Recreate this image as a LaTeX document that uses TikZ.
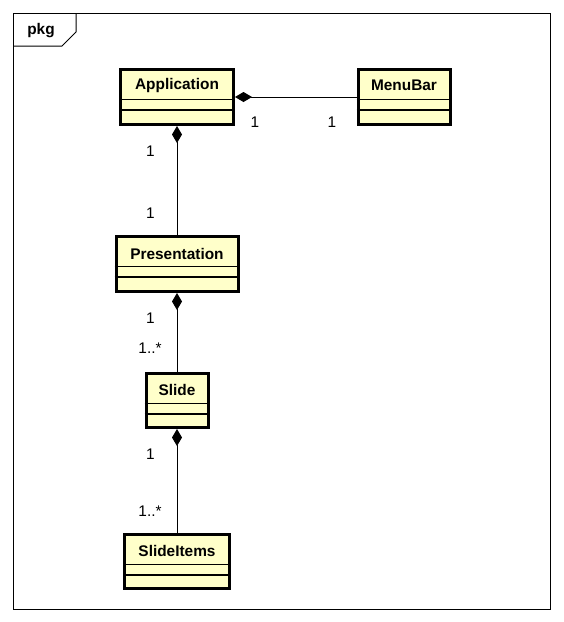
\documentclass[tikz,border=0pt]{standalone}
\usepackage{fontspec}
\setmainfont{Liberation Sans}
\usepackage{xcolor}
\usepackage{tikz}
\usetikzlibrary{arrows.meta}
\definecolor{clsfill}{RGB}{255,255,202}

\begin{document}
\begin{tikzpicture}[x=1pt,y=-1pt,
  cls/.style={draw,line width=3pt,fill=clsfill,inner sep=0pt},
  cname/.style={font=\bfseries\fontsize{15.4}{18}\selectfont,inner sep=0pt},
  mult/.style={font=\fontsize{15.4}{18}\selectfont,inner sep=0pt},
  comp/.style={-{Diamond[length=17pt,width=10pt]},line width=1pt}]
\useasboundingbox (0,0) rectangle (564,622);
% frame
\draw[line width=1pt] (13,13) rectangle (550,609);
\draw[line width=1pt] (13,46) -- (62,46) -- (76,32) -- (76,13);
\node[cname] (pkg) at (41,31) {pkg};

  \node[cls, minimum width=113pt, minimum height=55pt] (App) at (177,97) {};
  \node[cls, minimum width=92pt, minimum height=55pt] (Menu) at (404,97) {};
  \node[cls, minimum width=122pt, minimum height=55pt] (Pres) at (177,264) {};
  \node[cls, minimum width=62pt, minimum height=54pt] (Slide) at (177,400.5) {};
  \node[cls, minimum width=105pt, minimum height=54pt] (Items) at (177,561.5) {};

  \node[cname] (AppT) at ([yshift=-17.5pt]App.north) {Application};
  \node[cname] (MenuT) at ([yshift=-17.5pt]Menu.north) {MenuBar};
  \node[cname] (PresT) at ([yshift=-18.5pt]Pres.north) {Presentation};
  \node[cname] (SlideT) at ([yshift=-17.5pt]Slide.north) {Slide};
  \node[cname] (ItemsT) at ([yshift=-17.5pt]Items.north) {SlideItems};

  \foreach \c in {App,Menu,Pres,Slide,Items}{
    \draw[line width=1.2pt] ([yshift=-31.5pt]\c.north west) -- ([yshift=-31.5pt]\c.north east);
    \draw[line width=1.2pt] ([yshift=-42pt]\c.north west) -- ([yshift=-42pt]\c.north east);
  }

  \path[comp]
        (Menu) edge (App)
        (Pres) edge (App)
        (Slide) edge (Pres)
        (Items) edge (Slide);

  \node[mult] (m1) at (255,122.5) {1};
  \node[mult] (m2) at (332,122.5) {1};
  \node[mult] (m3) at (150.5,151) {1};
  \node[mult] (m4) at (150.5,213) {1};
  \node[mult] (m5) at (150.5,318) {1};
  \node[mult] (m6) at (150,348) {1..*};
  \node[mult] (m7) at (150.5,454) {1};
  \node[mult] (m8) at (150,511) {1..*};
\end{tikzpicture}
\end{document}
